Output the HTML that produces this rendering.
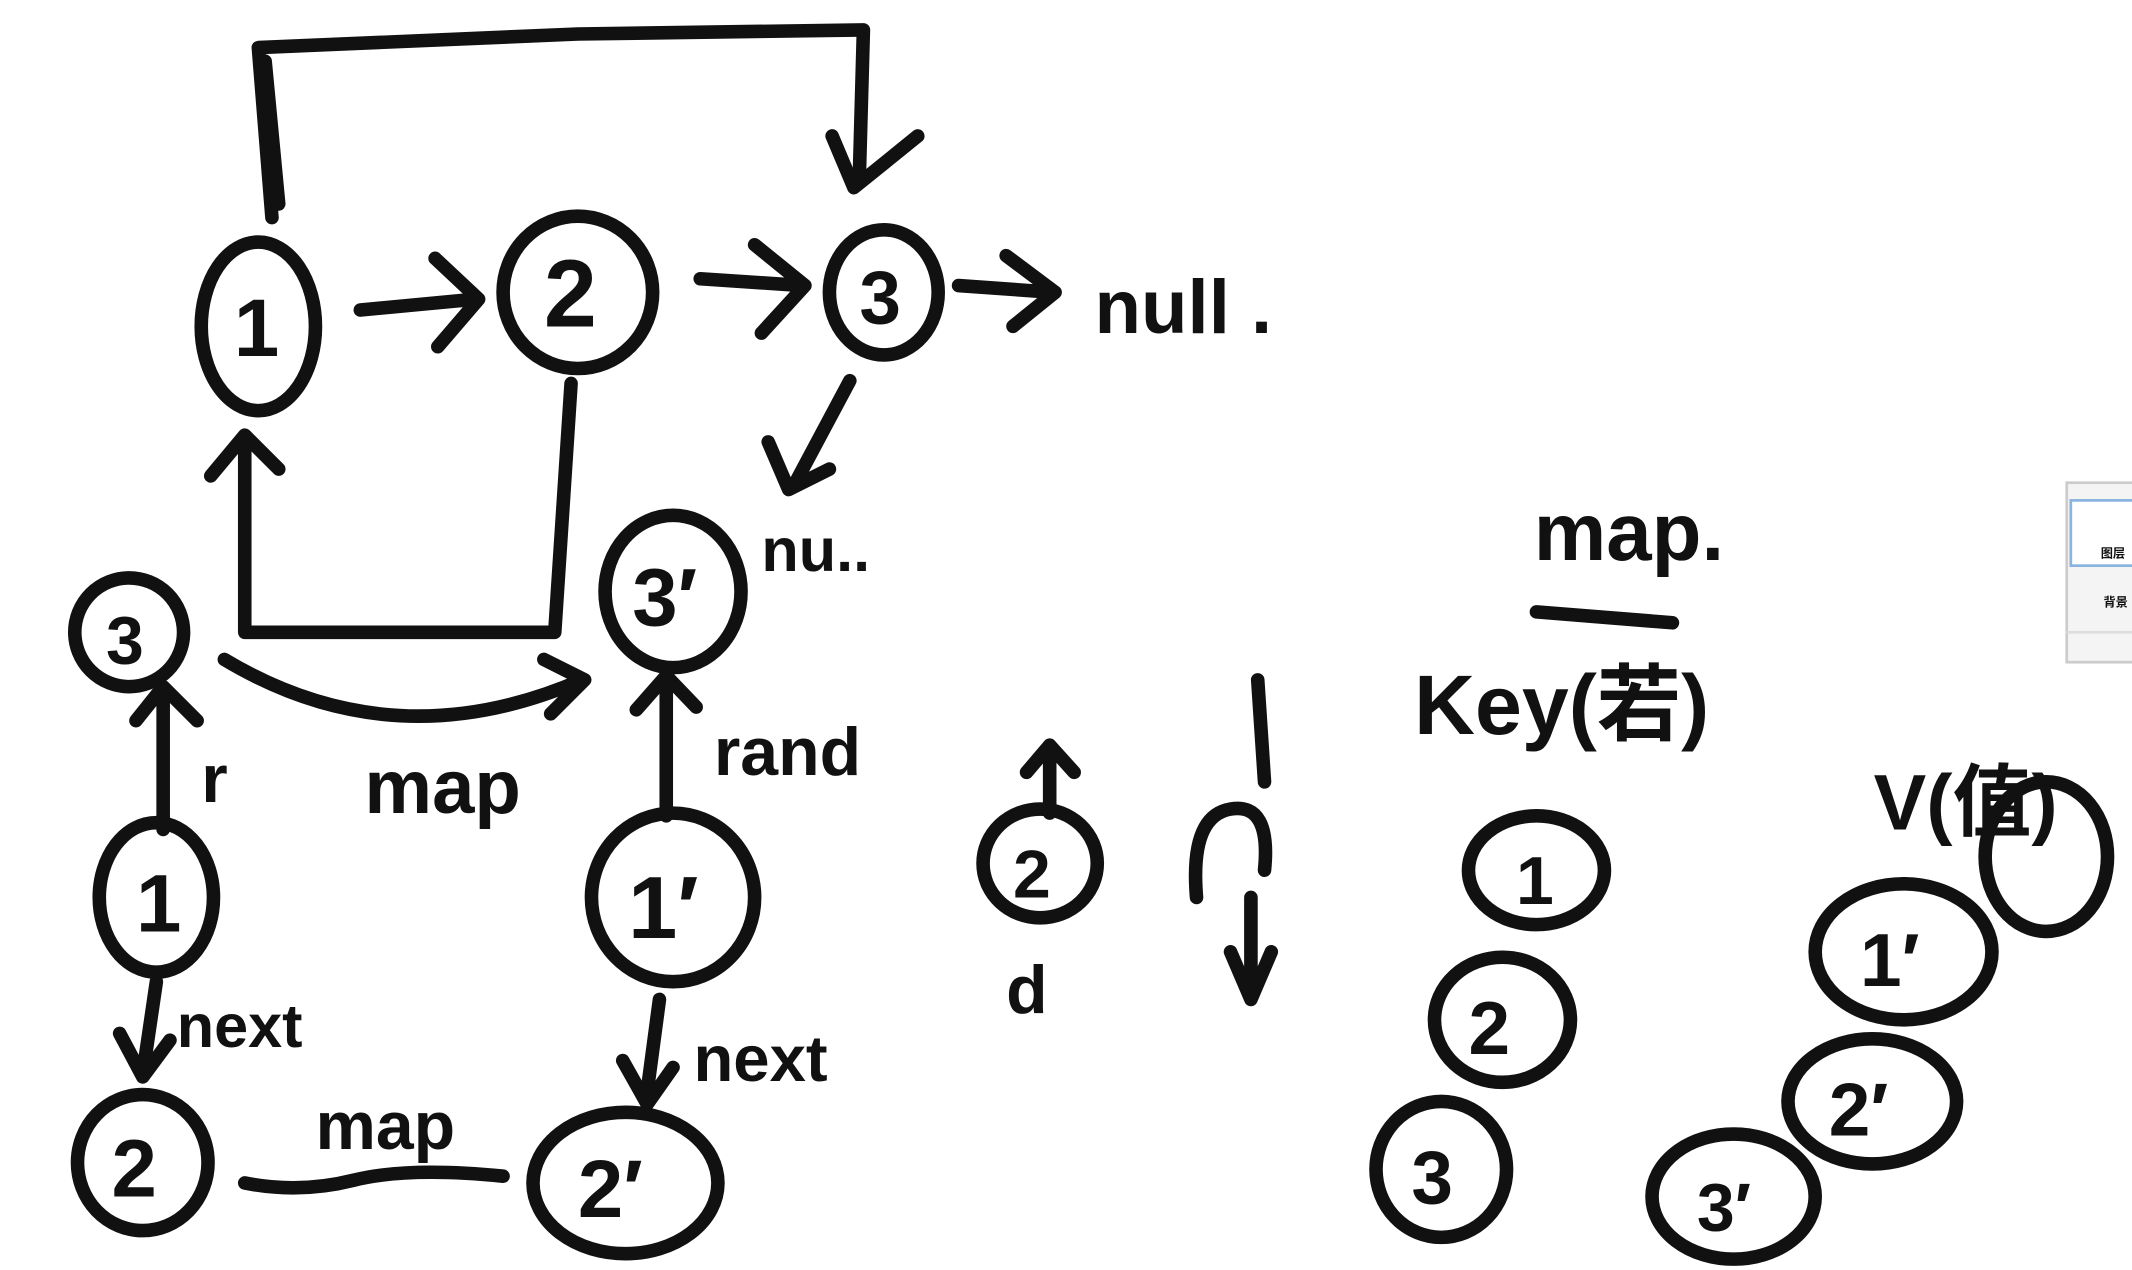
<!DOCTYPE html>
<html><head><meta charset="utf-8"><style>
html,body{margin:0;padding:0;background:#fff;}
svg{display:block;}
text{font-family:"Liberation Sans","Noto Sans CJK SC",sans-serif;font-weight:bold;fill:#111;}
</style></head><body>
<svg width="2132" height="1270" viewBox="0 0 1568 934" preserveAspectRatio="none" xmlns="http://www.w3.org/2000/svg">
<rect width="1568" height="934" fill="#fff"/>
<g fill="none" stroke="#111" stroke-width="10" stroke-linecap="round" stroke-linejoin="round">
<path d="M200,160 L190,35 L425,25 L635,22 L632,130"/>
<path d="M205,150 L195,45"/>
<path d="M612,100 L628,138 L675,100"/>
<ellipse cx="190" cy="240" rx="42" ry="62"/>
<path d="M265,228 L350,220 M320,190 L352,220 L322,255"/>
<ellipse cx="425" cy="215" rx="55" ry="56"/>
<path d="M515,205 L590,210 M555,180 L592,210 L560,245"/>
<ellipse cx="650" cy="215" rx="40" ry="46"/>
<path d="M705,210 L775,215 M740,188 L776,215 L745,240"/>
<path d="M625,280 L585,355 M565,325 L580,360 L610,345"/>
<ellipse cx="495" cy="435" rx="50" ry="56"/>
<path d="M420,282 L408,465 L180,465 L180,325 M155,350 L180,320 L205,345"/>
<ellipse cx="95" cy="465" rx="40" ry="40"/>
<path d="M165,485 Q290,560 428,500 M400,485 L430,500 L405,525"/>
<path d="M120,610 L120,510 M100,530 L120,505 L145,530"/>
<ellipse cx="115" cy="660" rx="42" ry="55"/>
<path d="M115,722 L105,790 M88,760 L105,792 L125,765"/>
<ellipse cx="105" cy="855" rx="48" ry="50"/>
<path d="M180,870 Q220,878 260,868 T370,865"/>
<path d="M490,600 L490,500 M468,522 L490,497 L512,520"/>
<ellipse cx="495" cy="660" rx="60" ry="62"/>
<path d="M485,735 L475,810 M458,780 L476,812 L495,785"/>
<ellipse cx="460" cy="870" rx="68" ry="52"/>
<path d="M772,598 L772,552 M755,568 L772,548 L790,568"/>
<ellipse cx="765" cy="635" rx="42" ry="40"/>
<path d="M925,500 L930,575 M880,660 Q875,600 905,595 Q935,590 930,640"/>
<path d="M920,660 L920,735 M905,700 L920,735 L935,700"/>
<path d="M1130,450 L1230,458"/>
<ellipse cx="1130" cy="640" rx="50" ry="40"/>
<ellipse cx="1105" cy="750" rx="50" ry="46"/>
<ellipse cx="1060" cy="860" rx="48" ry="50"/>
<ellipse cx="1505" cy="630" rx="45" ry="55"/>
<ellipse cx="1400" cy="700" rx="65" ry="50"/>
<ellipse cx="1377" cy="810" rx="62" ry="46"/>
<ellipse cx="1275" cy="880" rx="60" ry="46"/>
</g>
<g font-size="70">
<text x="172" y="262" font-size="60">1</text>
<text x="400" y="240" font-size="70">2</text>
<text x="632" y="238" font-size="55">3</text>
<text x="465" y="460" font-size="60">3′</text>
<text x="78" y="488" font-size="50">3</text>
<text x="100" y="685" font-size="60">1</text>
<text x="82" y="880" font-size="60">2</text>
<text x="462" y="690" font-size="65">1′</text>
<text x="425" y="895" font-size="60">2′</text>
<text x="745" y="660" font-size="50">2</text>
<text x="1115" y="665" font-size="50">1</text>
<text x="1080" y="775" font-size="55">2</text>
<text x="1038" y="885" font-size="55">3</text>
<text x="1368" y="725" font-size="55">1′</text>
<text x="1345" y="835" font-size="55">2′</text>
<text x="1248" y="905" font-size="50">3′</text>
</g>
<g font-size="56">
<text x="805" y="245">null .</text>
<text x="560" y="420" font-size="45">nu..</text>
<text x="268" y="598">map</text>
<text x="148" y="590" font-size="50">r</text>
<text x="130" y="770" font-size="45">next</text>
<text x="232" y="845" font-size="50">map</text>
<text x="525" y="570" font-size="50">rand</text>
<text x="510" y="795" font-size="48">next</text>
<text x="740" y="745" font-size="50">d</text>
<text x="1128" y="412" font-size="60">map.</text>
<text x="1040" y="540" font-size="62">Key(若)</text>
<text x="1378" y="610" font-size="58">V(值)</text>
</g>
<rect x="1520" y="355" width="60" height="132" fill="#f4f4f4" stroke="#ccc" stroke-width="2"/>
<rect x="1523" y="368" width="50" height="48" fill="#fff" stroke="#8ab4e0" stroke-width="2"/>
<text x="1545" y="410" font-size="9" font-weight="normal" fill="#666">图层</text>
<text x="1547" y="446" font-size="9" font-weight="normal" fill="#666">背景</text>
<line x1="1520" y1="465" x2="1568" y2="465" stroke="#ddd" stroke-width="2"/>
</svg>
</body></html>
